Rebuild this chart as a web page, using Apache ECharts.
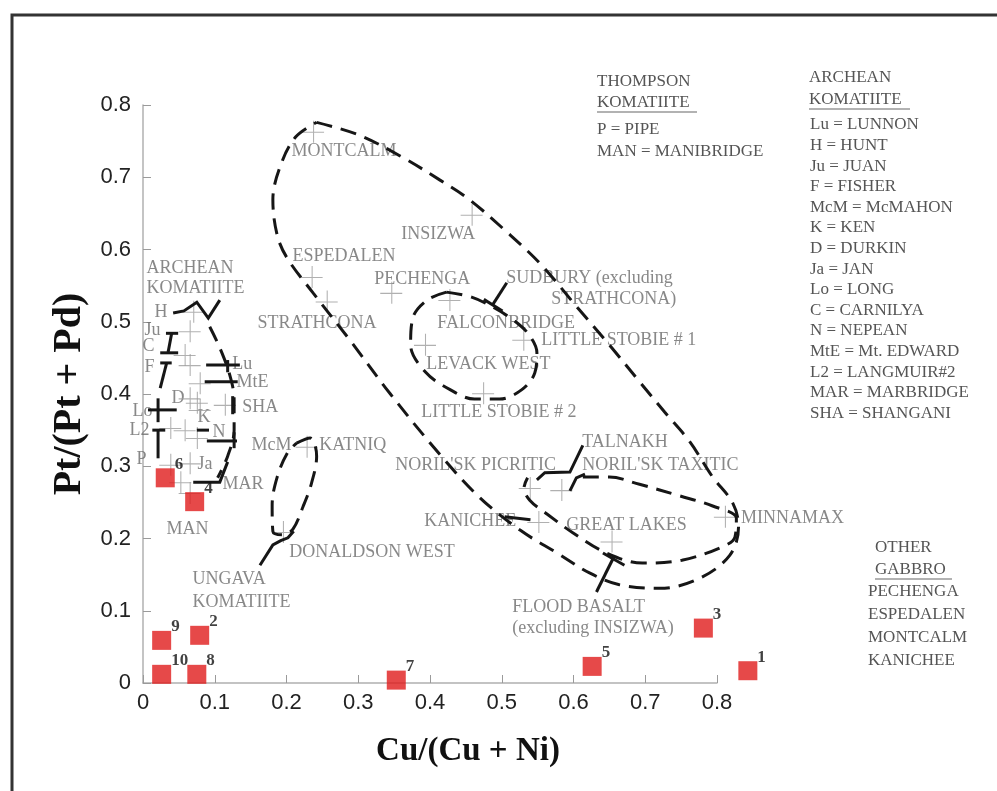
<!DOCTYPE html>
<html><head><meta charset="utf-8">
<script src="https://cdn.jsdelivr.net/npm/echarts@6/dist/echarts.min.js"></script>
<style>html,body{margin:0;padding:0;background:#fff}#c{width:997px;height:791px}</style>
</head><body><div id="c"></div>
<script>
// ---------- data ----------
const xTicks = [0, 0.1, 0.2, 0.3, 0.4, 0.5, 0.6, 0.7, 0.8];
const yTicks = [0, 0.1, 0.2, 0.3, 0.4, 0.5, 0.6, 0.7, 0.8];

// grey crosses: deposits [Cu/(Cu+Ni), Pt/(Pt+Pd)]
const depositPoints = [
  [0.237,0.763],[0.458,0.648],[0.235,0.562],[0.256,0.528],[0.346,0.540],[0.427,0.530],
  [0.393,0.468],[0.530,0.475],[0.474,0.401],[0.539,0.270],[0.583,0.267],[0.551,0.223],
  [0.653,0.196],[0.811,0.230],[0.228,0.327],[0.195,0.209]
];
const archeanPoints = [
  [0.070,0.514],[0.065,0.487],[0.058,0.454],[0.065,0.440],[0.079,0.415],[0.065,0.394],
  [0.075,0.388],[0.114,0.385],[0.079,0.378],[0.038,0.353],[0.058,0.350],[0.075,0.339],
  [0.038,0.302],[0.065,0.304],[0.052,0.278],[0.065,0.263]
];

// red squares: [label, x, y]
const samples = [
  ['1',0.843,0.017],['2',0.079,0.066],['3',0.781,0.076],['4',0.072,0.251],['5',0.626,0.023],
  ['6',0.031,0.284],['7',0.353,0.004],['8',0.075,0.012],['9',0.026,0.059],['10',0.026,0.012]
];

// text annotations anchored in data space: [text, x, y]
const siteLabels = [
  ['MONTCALM',0.2075,0.735],['INSIZWA',0.3607,0.620],['ESPEDALEN',0.2089,0.590],
  ['PECHENGA',0.3231,0.558],['STRATHCONA',0.1602,0.497],['FALCONBRIDGE',0.4109,0.497],
  ['LEVACK WEST',0.3955,0.440],['LITTLE STOBIE # 1',0.5557,0.473],['LITTLE STOBIE # 2',0.3886,0.374],
  ['SUDBURY (excluding',0.507,0.559],['STRATHCONA)',0.5696,0.530],['TALNAKH',0.6128,0.332],
  ["NORIL'SK TAXITIC",0.6128,0.300],["NORIL'SK PICRITIC",0.3524,0.300],['KANICHEE',0.3928,0.223],
  ['GREAT LAKES',0.5905,0.217],['MINNAMAX',0.8343,0.228],['FLOOD BASALT',0.5153,0.104],
  ['(excluding INSIZWA)',0.5153,0.0747],['McM',0.1518,0.328],['KATNIQ',0.2465,0.329],
  ['DONALDSON WEST',0.2047,0.180],['UNGAVA',0.0696,0.1426],['KOMATIITE',0.0696,0.1107],
  ['MAN',0.0334,0.2118],['MAR',0.1114,0.274],['ARCHEAN',0.0056,0.574],['KOMATIITE',0.0056,0.545],
  ['H',0.0167,0.512],['Ju',0.0028,0.487],['C',0.0,0.465],['F',0.0028,0.436],['D',0.0404,0.394],
  ['Lo',-0.014,0.376],['L2',-0.018,0.349],['P',-0.0084,0.3087],['K',0.0766,0.3668],
  ['N',0.0975,0.346],['Ja',0.0766,0.3017],['Lu',0.125,0.440],['MtE',0.131,0.415],['SHA',0.139,0.381]
];

// dashed field outlines
const outlineBig = [
  [0.242,0.776],[0.302,0.758],[0.361,0.728],[0.414,0.696],[0.455,0.669],[0.504,0.627],[0.553,0.581],
  [0.606,0.519],[0.650,0.468],[0.692,0.417],[0.727,0.375],[0.762,0.334],[0.794,0.285],[0.822,0.249],
  [0.830,0.216],[0.818,0.177],[0.776,0.145],[0.720,0.131],[0.664,0.136],[0.623,0.152],[0.577,0.180],
  [0.525,0.212],[0.469,0.257],[0.414,0.316],[0.344,0.401],[0.288,0.475],[0.237,0.540],[0.201,0.588],
  [0.187,0.620],[0.181,0.669],[0.192,0.717],[0.213,0.756],[0.242,0.776]
];
const outlineSudbury = [
  [0.423,0.541],[0.458,0.534],[0.490,0.519],[0.518,0.501],[0.538,0.482],[0.549,0.457],[0.546,0.429],
  [0.528,0.406],[0.497,0.393],[0.462,0.393],[0.428,0.406],[0.394,0.430],[0.373,0.468],[0.376,0.505],
  [0.396,0.530],[0.423,0.541]
];
const outlineBasalt = [
  [0.613,0.285],[0.650,0.285],[0.692,0.275],[0.748,0.259],[0.794,0.245],[0.827,0.228],[0.825,0.202],
  [0.804,0.187],[0.751,0.170],[0.696,0.166],[0.646,0.180],[0.599,0.208],[0.563,0.234],[0.539,0.253],
  [0.531,0.270],[0.536,0.284]
];
const outlineUngava = [
  [0.214,0.332],[0.233,0.339],[0.242,0.314],[0.235,0.277],[0.223,0.244],[0.209,0.213],[0.195,0.205],
  [0.181,0.210],[0.180,0.246],[0.187,0.285],[0.201,0.318],[0.214,0.332]
];
const outlineArchean = [
  [0.093,0.493],[0.107,0.464],[0.121,0.426],[0.127,0.392],[0.127,0.350],[0.118,0.314],[0.104,0.284]
];

// solid leader / bracket lines
const leaders = [
  [[0.042,0.512],[0.057,0.515],[0.075,0.527],[0.091,0.505],[0.107,0.530]],
  [[0.040,0.484],[0.035,0.458]],[[0.032,0.484],[0.049,0.484]],[[0.024,0.457],[0.049,0.457]],
  [[0.033,0.443],[0.024,0.408]],[[0.024,0.443],[0.040,0.443]],
  [[0.021,0.394],[0.021,0.361]],[[0.007,0.378],[0.047,0.378]],
  [[0.021,0.350],[0.021,0.311]],[[0.013,0.350],[0.031,0.350]],
  [[0.088,0.440],[0.135,0.440]],[[0.118,0.447],[0.118,0.430]],
  [[0.086,0.417],[0.132,0.417]],[[0.125,0.397],[0.125,0.372]],
  [[0.075,0.350],[0.092,0.350]],[[0.089,0.335],[0.131,0.335]],[[0.127,0.347],[0.127,0.325]],
  [[0.070,0.278],[0.107,0.278],[0.118,0.306]],
  [[0.507,0.554],[0.487,0.523]],[[0.475,0.531],[0.501,0.515]],
  [[0.613,0.329],[0.595,0.292],[0.560,0.291],[0.549,0.281]],
  [[0.616,0.289],[0.604,0.284],[0.595,0.266]],
  [[0.504,0.230],[0.540,0.226]],
  [[0.632,0.126],[0.656,0.174]],[[0.641,0.180],[0.671,0.163]],
  [[0.163,0.163],[0.181,0.191],[0.192,0.197],[0.202,0.201],[0.210,0.210]]
];

// ---------- chart ----------
const SERIF = "'Liberation Serif','Times New Roman',serif";
const SANS = "'Liberation Sans',Arial,sans-serif";
const CROSS = 'path://M0,10.5H21V11.5H0Z M10.5,0H11.5V21H10.5Z';
const fmt = v => String(Math.round(v * 10) / 10);

// second (hidden) cartesian with the same scale, wider extent, so outlines past 0.8 are not cut
function dashed(data) {
  return {type:'line', data, xAxisIndex:1, yAxisIndex:1, symbol:'none', smooth:0.35, clip:false,
    silent:true, z:4, lineStyle:{color:'#161616', width:3, type:[16,9]}};
}

const legendTexts = [];
function txt(text, x, y, size, color, bold) {
  legendTexts.push({type:'text', x, y, silent:true,
    style:{text, fill:color||'#555', font:(bold?'bold ':'') + (size||17) + 'px ' + SERIF,
      align:'left', verticalAlign:'middle', textVerticalAlign:'middle'}});
}
function uline(x1, x2, y) {
  legendTexts.push({type:'line', silent:true, shape:{x1, y1:y, x2, y2:y}, style:{stroke:'#666', lineWidth:1.2}});
}
const thompsonLegend = ['P = PIPE', 'MAN = MANIBRIDGE'];
const archeanLegend = ['Lu = LUNNON','H = HUNT','Ju = JUAN','F = FISHER','McM = McMAHON','K = KEN',
  'D = DURKIN','Ja = JAN','Lo = LONG','C = CARNILYA','N = NEPEAN','MtE = Mt. EDWARD',
  'L2 = LANGMUIR#2','MAR = MARBRIDGE','SHA = SHANGANI'];
const gabbroLegend = ['PECHENGA','ESPEDALEN','MONTCALM','KANICHEE'];

txt('THOMPSON', 597, 82); txt('KOMATIITE', 597, 103); uline(597, 697, 112);
thompsonLegend.forEach((t, i) => txt(t, 597, 130 + i * 21.5));
txt('ARCHEAN', 809, 78); txt('KOMATIITE', 809, 100); uline(809, 910, 109);
archeanLegend.forEach((t, i) => txt(t, 810, 125 + i * 20.6));
txt('OTHER', 875, 548); txt('GABBRO', 875, 570); uline(875, 952, 579);
gabbroLegend.forEach((t, i) => txt(t, 868, 592 + i * 22.7));

const chart = echarts.init(document.getElementById('c'));
chart.setOption({
  animation:false,
  backgroundColor:'#fff',
  grid:[
    {left:143, right:280, top:105, bottom:108},
    {left:143, width:717.5, top:32.75, height:722.5}
  ],
  xAxis:[
    {type:'value', min:xTicks[0], max:xTicks[xTicks.length-1], interval:0.1,
      name:'Cu/(Cu + Ni)', nameLocation:'middle', nameGap:52,
      nameTextStyle:{fontFamily:SERIF, fontWeight:'bold', fontSize:33, color:'#111', padding:[0,0,0,76]},
      axisLine:{lineStyle:{color:'#b0b0b0', width:1.5}},
      axisTick:{inside:true, length:8, lineStyle:{color:'#9a9a9a'}},
      axisLabel:{fontFamily:SANS, fontSize:22, color:'#222', margin:9, formatter:fmt},
      splitLine:{show:false}},
    {gridIndex:1, type:'value', min:0, max:1, show:false, splitLine:{show:false}}
  ],
  yAxis:[
    {type:'value', min:yTicks[0], max:yTicks[yTicks.length-1], interval:0.1,
      name:'Pt/(Pt + Pd)', nameLocation:'middle', nameGap:53, nameRotate:90,
      nameTextStyle:{fontFamily:SERIF, fontWeight:'bold', fontSize:40, color:'#111'},
      axisLine:{lineStyle:{color:'#b0b0b0', width:1.5}},
      axisTick:{inside:true, length:8, lineStyle:{color:'#9a9a9a'}},
      axisLabel:{fontFamily:SANS, fontSize:22, color:'#222', margin:12, formatter:fmt},
      splitLine:{show:false}},
    {gridIndex:1, type:'value', min:-0.1, max:0.9, show:false, splitLine:{show:false}}
  ],
  graphic:[{type:'rect', silent:true, shape:{x:12, y:15, width:1000, height:800},
      style:{fill:'none', stroke:'#333', lineWidth:3}}].concat(legendTexts),
  series:[
    {type:'scatter', name:'labels', silent:true, clip:false, z:2, symbolSize:1,
      itemStyle:{color:'transparent'},
      data:siteLabels.map(d => ({name:d[0], value:[d[1], d[2]]})),
      label:{show:true, formatter:'{b}', position:[0,0], align:'left', verticalAlign:'middle',
        fontFamily:SERIF, fontSize:18, color:'#6a6a6a'}},
    {type:'scatter', name:'deposits', silent:true, clip:false, z:3, symbol:CROSS, symbolSize:22,
      itemStyle:{color:'#9c9c9c'}, data:depositPoints.concat(archeanPoints)},
    dashed(outlineBig), dashed(outlineSudbury), dashed(outlineBasalt),
    dashed(outlineUngava), dashed(outlineArchean),
    {type:'lines', coordinateSystem:'cartesian2d', xAxisIndex:1, yAxisIndex:1, polyline:true,
      silent:true, clip:false, z:5,
      lineStyle:{color:'#161616', width:3, opacity:1},
      data:leaders.map(c => ({coords:c}))},
    {type:'scatter', name:'samples', silent:true, clip:false, z:6, symbol:'rect', symbolSize:19,
      itemStyle:{color:'#e01b1b'},
      data:samples.map(d => ({name:d[0], value:[d[1], d[2]]})),
      label:{show:true, formatter:'{b}', position:[19,-4], align:'left', verticalAlign:'middle',
        fontFamily:SERIF, fontWeight:'bold', fontSize:17, color:'#111'}}
  ]
});
</script>
</body></html>
